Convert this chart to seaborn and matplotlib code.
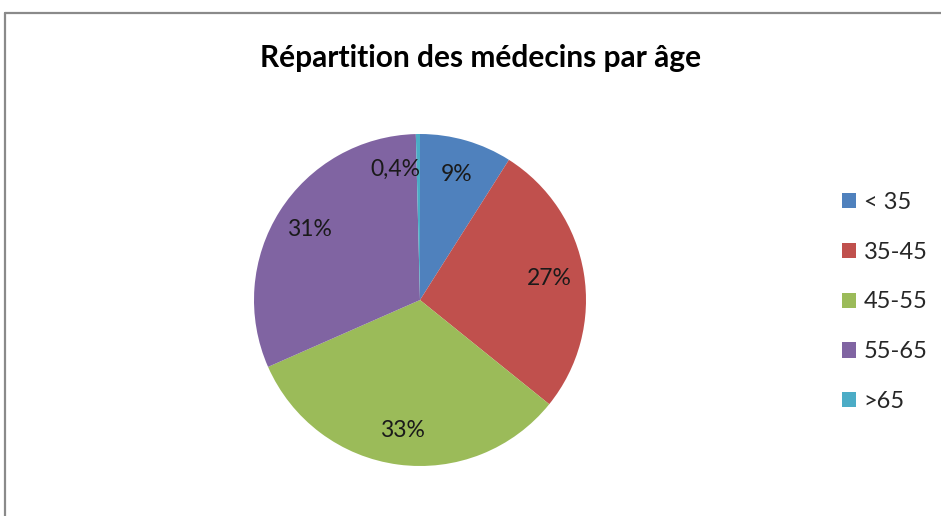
import matplotlib
matplotlib.use("Agg")
import matplotlib.pyplot as plt
from matplotlib.lines import Line2D
import seaborn as sns

# data
age_groups = ["< 35", "35-45", "45-55", "55-65", ">65"]
shares = [9.0, 26.8, 32.6, 31.2, 0.4]
share_labels = ["9%", "27%", "33%", "31%", "0,4%"]
slice_colors = ["#4F81BD", "#C0504D", "#9BBB59", "#8064A2", "#4BACC6"]

sns.set_style("white")
plt.rcParams["font.family"] = ["Lato", "DejaVu Sans"]

W, H = 941, 516
fig = plt.figure(figsize=(W / 100, H / 100), dpi=100)

# chart-area border (top and left visible, rest is cropped)
fig.add_artist(Line2D([5 / W, 1.0], [1 - 13 / H, 1 - 13 / H], transform=fig.transFigure,
                      color="#8a8a8a", lw=1.6))
fig.add_artist(Line2D([5 / W, 5 / W], [0.0, 1 - 13 / H], transform=fig.transFigure,
                      color="#8a8a8a", lw=1.6))

fig.text(481 / W, 1 - 58 / H, "Répartition des médecins par âge", ha="center", va="center",
         fontsize=21.5, fontweight="bold", color="#000000")

cx, cy, r = 420, 300, 166
ax = fig.add_axes([(cx - r) / W, (H - cy - r) / H, 2 * r / W, 2 * r / H])
wedges, texts = ax.pie(shares, labels=share_labels, colors=sns.color_palette(slice_colors),
                       startangle=90, counterclock=False, labeldistance=0.79,
                       wedgeprops=dict(linewidth=0),
                       textprops=dict(fontsize=16.5, color="#1a1a1a", ha="center", va="center"))
ax.set_xlim(-1, 1)
ax.set_ylim(-1, 1)
ax.set_aspect("equal")

# Excel moved the tiny slice label aside so it does not overlap
texts[4].set_position((-0.15, 0.79))

fig.legend(wedges, age_groups, loc="center left", bbox_to_anchor=(830 / W, 1 - 302 / H),
           frameon=False, fontsize=17, handlelength=0.62, handleheight=0.62,
           handletextpad=0.3, labelspacing=1.22, borderpad=0)

fig.savefig("out.png", dpi=100)
